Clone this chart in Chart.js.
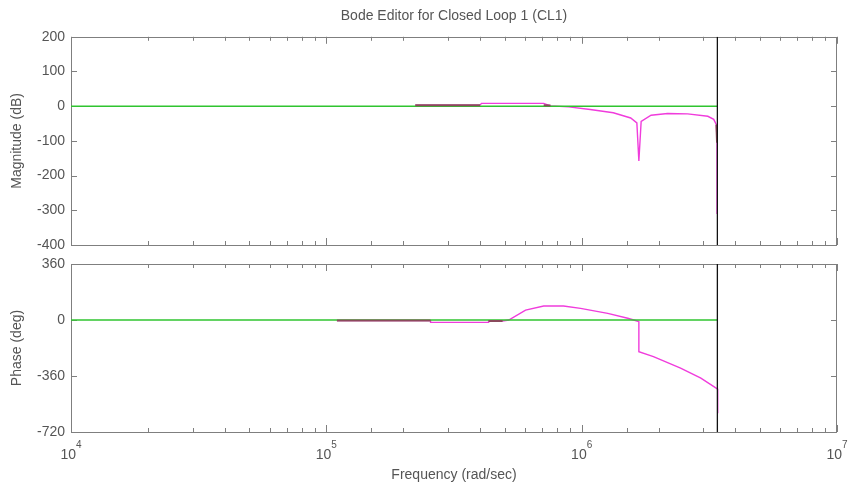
<!DOCTYPE html>
<html lang="en">
<head>
<meta charset="UTF-8">
<title>Bode Editor for Closed Loop 1 (CL1)</title>
<script src="https://cdn.jsdelivr.net/npm/chart.js"></script>
<style>
    body { margin: 0; background: #fff; }
    .wrap { position: relative; width: 857px; height: 485px; }
    .wrap canvas { position: absolute; left: 0; }
    #magChart { top: 0; }
    #phaseChart { top: 253px; }
</style>
</head>
<body>
<div class="wrap">
    <canvas id="magChart" width="857" height="253"></canvas>
    <canvas id="phaseChart" width="857" height="232"></canvas>
</div>

<script>
// frequency range (rad/sec) and tick labels
const freqRange = [1e4, 1e7];
const decadeExp = { 1e4: '4', 1e5: '5', 1e6: '6', 1e7: '7' };
const magTicks = [-400, -300, -200, -100, 0, 100, 200];
const phaseTicks = [-720, -360, 0, 360];
const crossFreq = 3.4e6;   // black vertical marker

// magnitude response (dB)
const magFreq = [2.23e5, 4.0e5, 4.05e5, 7.1e5, 7.55e5, 8.9e5, 1.08e6, 1.33e6, 1.556e6, 1.645e6,
                 1.675e6, 1.71e6, 1.87e6, 2.17e6, 2.6e6, 3.12e6, 3.29e6, 3.37e6, 3.39e6, 3.39e6];
const magDb   = [3, 3, 8, 8, 1, -2, -9.5, -19, -34, -48,
                 -158, -44, -26, -21, -22, -29, -38, -53, -105, -311];
// darker overlay pieces of the magnitude curve (null = gap)
const magDarkFreq = [2.23e5, 4.0e5, 4.0e5, 7.1e5, 7.55e5, 7.55e5, 3.37e6, 3.39e6];
const magDarkDb   = [3, 3, null, 3, 2, null, -53, -105];

// phase response (deg)
const phaseFreq = [1.1e5, 2.56e5, 2.56e5, 4.32e5, 4.32e5, 4.9e5, 5.18e5, 6.03e5, 7.1e5, 8.49e5,
                   9.9e5, 1.265e6, 1.515e6, 1.66e6, 1.675e6, 1.675e6, 1.91e6, 2.44e6, 2.93e6, 3.41e6, 3.41e6];
const phaseDeg  = [-4, -4, -15, -15, -6, -6, 0, 64, 90, 90,
                   75, 43, 11, -8, -11, -204, -236, -310, -374, -445, -600];
const phaseDarkFreq = [1.1e5, 2.56e5, 2.56e5, 4.32e5, 4.9e5];
const phaseDarkDeg  = [-4, -4, null, -6, -6];

const GREEN = '#2fc42f';
const PINK = '#f03cdc';
const DARK = '#8a4a5c';
const AXIS = '#7f7f7f';
const TEXT = '#555555';
const FONT = 'Liberation Sans, Arial, sans-serif';

function pts(xs, ys) {
    return xs.map((x, i) => ({ x: x, y: ys[i] }));
}

function isDecade(v) {
    const e = Math.log10(v);
    return Math.abs(e - Math.round(e)) < 1e-9;
}

// box + inward tick marks on all four sides, decade labels as 10 with raised exponent
const framePlugin = {
    id: 'frame',
    beforeDatasetsDraw(chart) {
        const { ctx, chartArea: a, scales: { x, y } } = chart;
        ctx.save();
        ctx.strokeStyle = AXIS;
        ctx.lineWidth = 1;
        ctx.strokeRect(Math.round(a.left) + 0.5, Math.round(a.top) + 0.5,
                       Math.round(a.width) - 1, Math.round(a.height));
        ctx.beginPath();
        x.ticks.forEach(t => {
            const px = Math.round(x.getPixelForValue(t.value)) + 0.5;
            const len = isDecade(t.value) ? 7 : 4;
            ctx.moveTo(px, a.bottom); ctx.lineTo(px, a.bottom - len);
            ctx.moveTo(px, a.top); ctx.lineTo(px, a.top + len);
        });
        y.ticks.forEach(t => {
            const py = Math.round(y.getPixelForValue(t.value)) + 0.5;
            ctx.moveTo(a.left, py); ctx.lineTo(a.left + 6, py);
            ctx.moveTo(a.right, py); ctx.lineTo(a.right - 6, py);
        });
        ctx.stroke();

        if (chart.options.showDecades) {
            ctx.fillStyle = TEXT;
            ctx.textBaseline = 'alphabetic';
            x.ticks.forEach(t => {
                const exp = decadeExp[t.value];
                if (!exp) return;
                const px = x.getPixelForValue(t.value);
                ctx.font = '14px ' + FONT;
                ctx.textAlign = 'right';
                ctx.fillText('10', px + 5, a.bottom + 27);
                ctx.font = '10px ' + FONT;
                ctx.textAlign = 'left';
                ctx.fillText(exp, px + 5, a.bottom + 16);
            });
        }
        ctx.restore();
    }
};

function lineSet(data, color, width, order) {
    return {
        data: data,
        borderColor: color,
        borderWidth: width,
        pointRadius: 0,
        fill: false,
        tension: 0,
        spanGaps: false,
        order: order
    };
}

function makeChart(id, opts) {
    const ymin = opts.yTicks[0], ymax = opts.yTicks[opts.yTicks.length - 1];
    return new Chart(document.getElementById(id), {
        type: 'line',
        data: {
            datasets: [
                lineSet(pts(opts.freq, opts.vals), PINK, 1.4, 4),
                lineSet([{ x: freqRange[0], y: 0 }, { x: crossFreq, y: 0 }], GREEN, 1.4, 3),
                lineSet(pts(opts.darkFreq, opts.darkVals), DARK, 2, 2),
                lineSet([{ x: crossFreq, y: ymax }, { x: crossFreq, y: ymin }], '#111111', 1.3, 1)
            ]
        },
        options: {
            responsive: false,
            animation: false,
            showDecades: opts.showX,
            layout: { padding: { top: opts.padTop, right: 20, left: 0, bottom: 0 } },
            plugins: {
                legend: { display: false },
                tooltip: { enabled: false },
                title: {
                    display: !!opts.title,
                    text: opts.title,
                    fullSize: false,
                    color: TEXT,
                    font: { family: FONT, size: 14, weight: 'normal' },
                    padding: { top: 8, bottom: 12 }
                }
            },
            scales: {
                x: {
                    type: 'logarithmic',
                    min: freqRange[0],
                    max: freqRange[1],
                    grid: { display: false, drawTicks: false },
                    border: { display: false },
                    afterFit: s => { s.height = opts.xHeight; s.paddingLeft = 0; s.paddingRight = 0; },
                    ticks: { display: false, autoSkip: false },
                    title: {
                        display: opts.showX,
                        text: 'Frequency (rad/sec)',
                        color: TEXT,
                        font: { family: FONT, size: 14 },
                        padding: { top: 0, bottom: 1 }
                    }
                },
                y: {
                    type: 'linear',
                    min: ymin,
                    max: ymax,
                    afterBuildTicks: s => { s.ticks = opts.yTicks.map(v => ({ value: v })); },
                    afterFit: s => { s.width = 71; s.paddingTop = 0; s.paddingBottom = 0; },
                    grid: { display: false, drawTicks: false },
                    border: { display: false },
                    ticks: {
                        padding: 6,
                        color: TEXT,
                        font: { family: FONT, size: 14 }
                    },
                    title: {
                        display: true,
                        text: opts.yTitle,
                        color: TEXT,
                        font: { family: FONT, size: 14 },
                        padding: { top: 9, bottom: 0 }
                    }
                }
            }
        },
        plugins: [framePlugin]
    });
}

makeChart('magChart', {
    title: 'Bode Editor for Closed Loop 1 (CL1)',
    yTitle: 'Magnitude (dB)',
    yTicks: magTicks,
    freq: magFreq, vals: magDb,
    darkFreq: magDarkFreq, darkVals: magDarkDb,
    padTop: 0, xHeight: 8, showX: false
});

makeChart('phaseChart', {
    title: '',
    yTitle: 'Phase (deg)',
    yTicks: phaseTicks,
    freq: phaseFreq, vals: phaseDeg,
    darkFreq: phaseDarkFreq, darkVals: phaseDarkDeg,
    padTop: 11, xHeight: 53, showX: true
});
</script>
</body>
</html>
